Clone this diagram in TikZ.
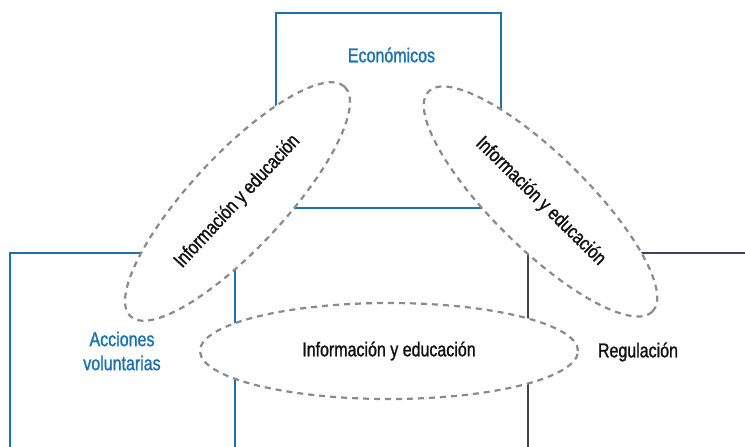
\documentclass[tikz,border=0pt]{standalone}
\usepackage{fontspec}
\setmainfont{Liberation Sans}[FakeStretch=0.8, FakeBold=1.2]
\usetikzlibrary{shapes.geometric}
\definecolor{boxblue}{HTML}{1B72AE}
\definecolor{boxdark}{HTML}{3B4557}
\definecolor{dashgray}{HTML}{8A8A8A}
\definecolor{txtdark}{HTML}{111111}
\tikzset{
  bluebox/.style={draw=boxblue, line width=2pt},
  darkbox/.style={draw=boxdark, line width=2pt},
  infoell/.style={ellipse, draw=dashgray, fill=white, line width=2.2pt,
    dash pattern=on 6pt off 5pt, inner sep=0pt, text=txtdark,
    font=\fontsize{20}{22}\selectfont},
  boxlabel/.style={font=\fontsize{20}{24}\selectfont, align=center}
}
\begin{document}
\begin{tikzpicture}[x=1pt,y=1pt]
\useasboundingbox (0,0) rectangle (745,-447);
% boxes
\draw[bluebox] (276,-13) rectangle (501,-208);
\draw[bluebox] (9.5,-447) -- (9.5,-253) -- (235,-253) -- (235,-447);
\draw[darkbox] (528,-447) -- (528,-253) -- (745,-253);
% ellipses
\node[infoell, minimum width=314pt, minimum height=94pt, rotate=47] (ell) at (237.5,-201.5) {Información y educación};
\node[infoell, minimum width=314pt, minimum height=94pt, rotate=-44.5] (elr) at (540.5,-201.5) {Información y educación};
\node[infoell, minimum width=378pt, minimum height=96pt] (elb) at (389,-351) {Información y educación};
% labels
\node[boxlabel, text=boxblue] (eco) at (391.5,-55) {Económicos};
\node[boxlabel, text=boxblue] (acc) at (122,-351) {Acciones\\voluntarias};
\node[boxlabel, text=txtdark] (reg) at (638,-352) {Regulación};
\end{tikzpicture}
\end{document}
